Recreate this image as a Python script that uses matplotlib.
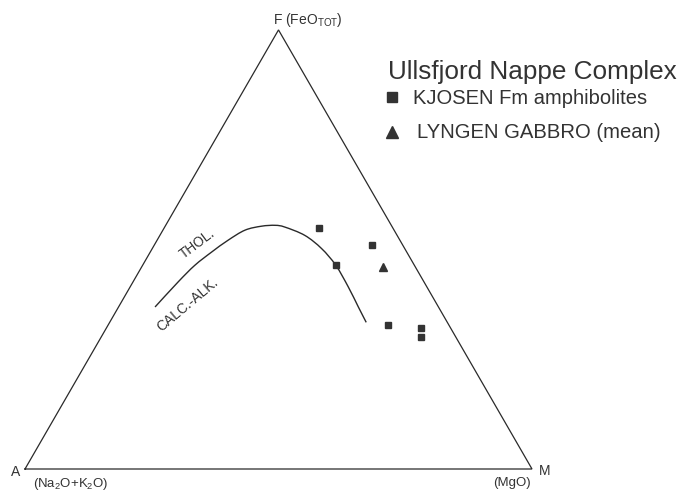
import numpy as np
import matplotlib
matplotlib.use("Agg")
import matplotlib.pyplot as plt
from matplotlib.path import Path
from matplotlib.patches import PathPatch

plt.rcParams['font.family'] = ['Liberation Sans', 'DejaVu Sans']

# --- data (ternary fractions A, F, M) ---
kjosen_A = [0.145, 0.061, 0.155, 0.119, 0.058, 0.069]
kjosen_F = [0.549, 0.510, 0.464, 0.329, 0.320, 0.300]
kjosen_M = [0.306, 0.429, 0.381, 0.552, 0.622, 0.631]

lyngen_A = [0.064]
lyngen_F = [0.460]
lyngen_M = [0.476]

# Tholeiitic / calc-alkaline dividing line (Irvine & Baragar)
curve_A = [0.559, 0.485, 0.433, 0.385, 0.339, 0.294, 0.257, 0.229, 0.212, 0.182, 0.164, 0.155, 0.155, 0.158, 0.160]
curve_F = [0.369, 0.426, 0.464, 0.494, 0.521, 0.544, 0.553, 0.555, 0.551, 0.532, 0.502, 0.464, 0.415, 0.369, 0.334]
curve_M = [0.072, 0.089, 0.103, 0.121, 0.140, 0.162, 0.190, 0.216, 0.237, 0.286, 0.334, 0.381, 0.430, 0.473, 0.506]

legend_title = "Ullsfjord Nappe Complex"
legend_labels = ["KJOSEN Fm amphibolites", "LYNGEN GABBRO (mean)"]


def tern(A, F, M):
    A = np.asarray(A, float); F = np.asarray(F, float); M = np.asarray(M, float)
    s = A + F + M
    F = F / s; M = M / s
    x = M + F / 2.0
    y = F * np.sqrt(3) / 2.0
    return x, y


def smooth_path(x, y):
    """Cubic Bezier path through the given points (Catmull-Rom tangents)."""
    pts = np.column_stack([x, y])
    n = len(pts)
    verts = [pts[0]]
    codes = [Path.MOVETO]
    for i in range(n - 1):
        p0 = pts[max(i - 1, 0)]
        p1 = pts[i]
        p2 = pts[i + 1]
        p3 = pts[min(i + 2, n - 1)]
        c1 = p1 + (p2 - p0) / 6.0
        c2 = p2 - (p3 - p1) / 6.0
        verts += [c1, c2, p2]
        codes += [Path.CURVE4] * 3
    return Path(verts, codes)


W, H = 681, 491
fig = plt.figure(figsize=(W / 100, H / 100), dpi=100)
ax = fig.add_axes([0, 0, 1, 1])
PX0, PY0, SC = 25.0, 469.0, 507.0   # pixel position of A vertex, pixels per unit
ax.set_xlim(-PX0 / SC, (W - PX0) / SC)
ax.set_ylim(-(H - PY0) / SC, PY0 / SC)
ax.axis('off')


def P(px, py):
    return (px - PX0) / SC, (PY0 - py) / SC


col = '#2a2a2a'
# triangle frame
tx, ty = tern([1, 0, 0, 1], [0, 0, 1, 0], [0, 1, 0, 0])
ax.plot(tx, ty, color=col, lw=0.9, solid_joinstyle='miter')

# dividing curve
cx, cy = tern(curve_A, curve_F, curve_M)
ax.add_patch(PathPatch(smooth_path(cx, cy), facecolor='none', edgecolor=col, lw=1.0, capstyle='butt'))

# samples
kx, ky = tern(kjosen_A, kjosen_F, kjosen_M)
ax.plot(kx, ky, 's', ms=4.6, color='#333333', mec='#333333', ls='none')
lx, ly = tern(lyngen_A, lyngen_F, lyngen_M)
ax.plot(lx, ly, '^', ms=5.2, color='#333333', mec='#333333', ls='none')

tc = '#333333'
# vertex labels
ax.text(*P(273, 20), r"F (FeO$_{\mathregular{TOT}}$)", fontsize=10, color=tc, ha='left', va='center')
ax.text(*P(16, 472), "A", fontsize=10, color=tc, ha='center', va='center')
ax.text(*P(33, 484), r"(Na$_{\mathregular{2}}$O+K$_{\mathregular{2}}$O)", fontsize=9.5, color=tc, ha='left', va='center')
ax.text(*P(545, 471), "M", fontsize=10, color=tc, ha='center', va='center')
ax.text(*P(531, 483), "(MgO)", fontsize=9.5, color=tc, ha='right', va='center')

# field labels
ax.text(*P(197, 244), "THOL.", fontsize=9.8, color=tc, ha='center', va='center', rotation=37)
ax.text(*P(188, 305), "CALC.-ALK.", fontsize=10, color=tc, ha='center', va='center', rotation=40)

# legend
ax.text(*P(388, 72), legend_title, fontsize=18.8, color=tc, ha='left', va='center')
mx, my = P(392, 97)
ax.plot([mx], [my], 's', ms=7, color='#333333', ls='none')
ax.text(*P(413, 98), legend_labels[0], fontsize=14.5, color=tc, ha='left', va='center')
mx, my = P(392, 132)
ax.plot([mx], [my], '^', ms=8, color='#333333', ls='none')
ax.text(*P(417, 133), legend_labels[1], fontsize=14.6, color=tc, ha='left', va='center')

fig.savefig('out.png', dpi=100)
